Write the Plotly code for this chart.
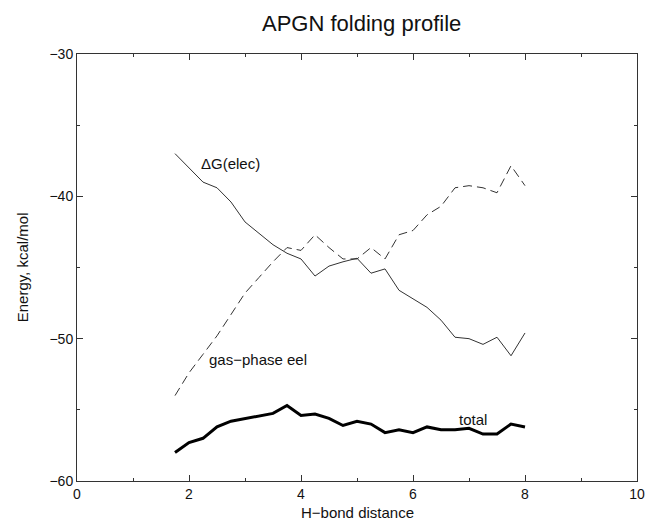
import plotly.graph_objects as go

x_dist = [1.75, 2.0, 2.25, 2.5, 2.75, 3.0, 3.25, 3.5, 3.75, 4.0, 4.25, 4.5, 4.75,
          5.0, 5.25, 5.5, 5.75, 6.0, 6.25, 6.5, 6.75, 7.0, 7.25, 7.5, 7.75, 8.0]

dg_elec = [-37.0, -38.0, -39.0, -39.4, -40.4, -41.8, -42.6, -43.4, -44.0, -44.4,
           -45.6, -44.9, -44.6, -44.35, -45.4, -45.1, -46.6, -47.2, -47.8, -48.7,
           -49.9, -50.0, -50.4, -49.9, -51.2, -49.6]

gas_eel = [-54.0, -52.4, -51.1, -49.8, -48.3, -46.8, -45.7, -44.6, -43.6, -43.8,
           -42.7, -43.6, -44.4, -44.4, -43.6, -44.4, -42.7, -42.4, -41.3, -40.7,
           -39.4, -39.25, -39.4, -39.75, -37.85, -39.25]

total = [-58.0, -57.3, -57.0, -56.2, -55.8, -55.6, -55.4, -55.25, -54.7, -55.4,
         -55.3, -55.6, -56.1, -55.8, -56.0, -56.6, -56.4, -56.6, -56.2, -56.4,
         -56.4, -56.3, -56.7, -56.7, -56.0, -56.2]

labels = [
    ("\u0394G(elec)", 2.18, -37.7),
    ("gas\u2212phase eel", 2.32, -51.45),
    ("total", 6.78, -55.7),
]

FONT = "Liberation Sans, Arial, Helvetica, sans-serif"

fig = go.Figure()
fig.add_trace(go.Scatter(x=x_dist, y=dg_elec, mode="lines",
                         line=dict(color="#333333", width=1), showlegend=False))
fig.add_trace(go.Scatter(x=x_dist, y=gas_eel, mode="lines",
                         line=dict(color="#333333", width=1, dash="9px,5px"),
                         showlegend=False))
fig.add_trace(go.Scatter(x=x_dist, y=total, mode="lines",
                         line=dict(color="#000000", width=3), showlegend=False))

for text, lx, ly in labels:
    fig.add_annotation(x=lx, y=ly, text=text, showarrow=False, xanchor="left",
                       yanchor="middle", font=dict(family=FONT, size=15, color="#111"))

# axis titles as paper-referenced text
fig.add_annotation(x=0.5, y=-0.0726, xref="paper", yref="paper", text="H\u2212bond distance",
                   showarrow=False, xanchor="center", yanchor="middle",
                   font=dict(family=FONT, size=15, color="#111"))
fig.add_annotation(x=-0.0968, y=0.5, xref="paper", yref="paper", text="Energy, kcal/mol",
                   showarrow=False, xanchor="center", yanchor="middle", textangle=-90,
                   font=dict(family=FONT, size=15, color="#111"))

axis_common = dict(
    showgrid=False, zeroline=False, showline=True, linecolor="#333", linewidth=1,
    mirror="ticks", ticks="inside", ticklen=6, tickcolor="#333", tickwidth=1,
    tickfont=dict(family=FONT, size=14, color="#111"), automargin=False,
)

fig.update_xaxes(range=[0, 10], dtick=2, tick0=0,
                 minor=dict(dtick=1, ticks="inside", ticklen=3, tickcolor="#333"),
                 **axis_common)
fig.update_yaxes(range=[-60, -30], dtick=10, tick0=-60,
                 minor=dict(dtick=5, ticks="inside", ticklen=3, tickcolor="#333"),
                 **axis_common)

fig.update_layout(
    width=647, height=520,
    margin=dict(l=77, r=10, t=54, b=39),
    paper_bgcolor="white", plot_bgcolor="white",
    title=dict(text="APGN folding profile", x=0.559, xanchor="center", y=0.955, yanchor="middle",
               font=dict(family=FONT, size=22, color="#111")),
)

fig.write_html("out.html", config={"displayModeBar": False},
               post_script="document.body.style.margin='0';document.body.style.overflow='hidden';")
